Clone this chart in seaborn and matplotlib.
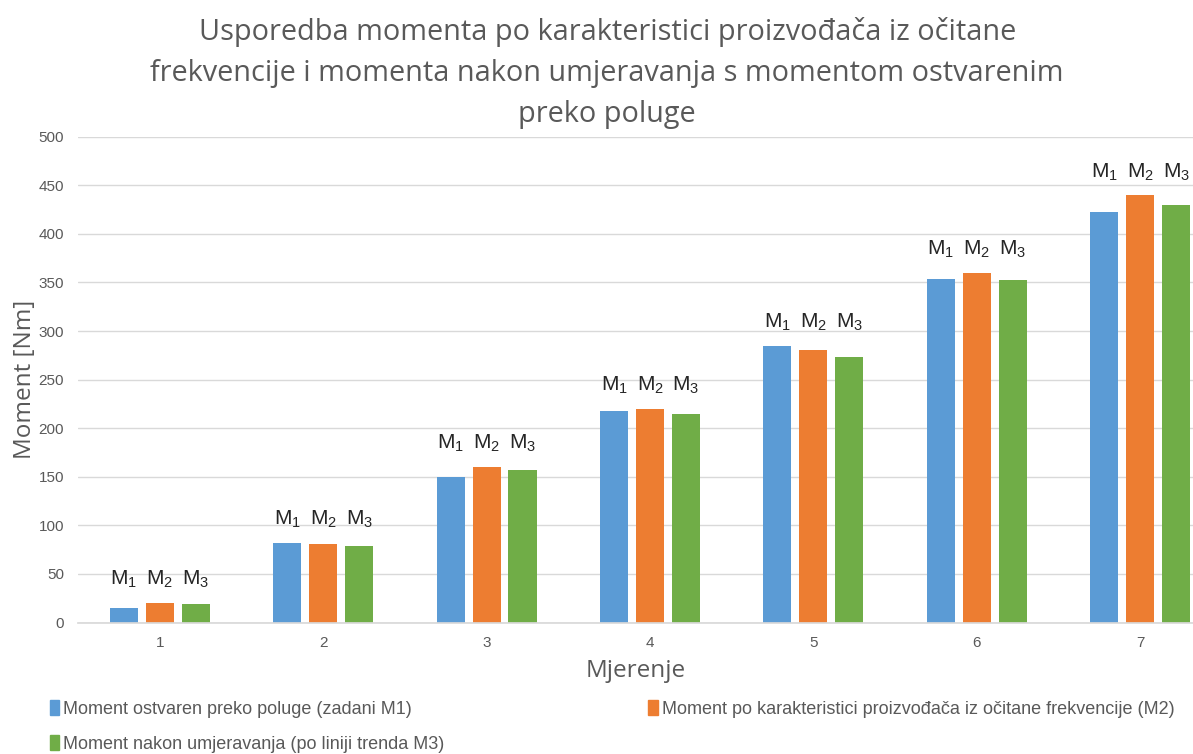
import matplotlib
matplotlib.use("Agg")
import matplotlib.pyplot as plt
import seaborn as sns
import pandas as pd

# Measured torques per measurement run
mjerenja = ["1", "2", "3", "4", "5", "6", "7"]
m1_poluga = [15.0, 82.2, 150.0, 217.2, 284.3, 353.5, 422.0]
m2_karakteristika = [20.5, 80.8, 159.6, 219.9, 280.2, 359.3, 439.5]
m3_umjeravanje = [19.1, 78.4, 156.8, 214.4, 273.4, 352.1, 429.9]

serije = [
    "Moment ostvaren preko poluge (zadani M1)",
    "Moment po karakteristici proizvođača iz očitane frekvencije (M2)",
    "Moment nakon umjeravanja (po liniji trenda M3)",
]
oznake = ["M$_1$", "M$_2$", "M$_3$"]
boje = ["#5B9BD5", "#ED7D31", "#70AD47"]

naslov = ("Usporedba momenta po karakteristici proizvođača iz očitane\n"
          "frekvencije i momenta nakon umjeravanja s momentom ostvarenim\n"
          "preko poluge")

df = pd.DataFrame({
    "Mjerenje": mjerenja * 3,
    "Moment": m1_poluga + m2_karakteristika + m3_umjeravanje,
    "Serija": [s for s in serije for _ in mjerenja],
})

sns.set_theme(style="white")
plt.rcParams["font.family"] = ["Open Sans", "DejaVu Sans"]
plt.rcParams["mathtext.fontset"] = "custom"
plt.rcParams["mathtext.rm"] = "Liberation Sans"
plt.rcParams["mathtext.it"] = "Liberation Sans"

siva = "#595959"
fig = plt.figure(figsize=(11.93, 7.54), dpi=100)
ax = fig.add_axes([78 / 1193, 1 - 622.5 / 754, 1 - 78 / 1193, (622.5 - 136.7) / 754])

sns.barplot(data=df, x="Mjerenje", y="Moment", hue="Serija", order=mjerenja,
            hue_order=serije, palette=boje, width=0.66, gap=0.22,
            saturation=1, edgecolor="none", legend=False, ax=ax)

ax.set_ylim(0, 500)
ax.set_xlim(-0.5, 6.5 - 29 / 163.5)
ax.set_yticks(range(0, 501, 50))
ax.grid(axis="y", color="#D9D9D9", linewidth=1.0)
ax.set_axisbelow(True)
for s in ["top", "right", "left"]:
    ax.spines[s].set_visible(False)
ax.spines["bottom"].set_color("#D9D9D9")
ax.tick_params(axis="both", length=0, colors=siva)
ax.tick_params(axis="y", pad=10)
ax.tick_params(axis="x", pad=10)
for t in ax.get_xticklabels() + ax.get_yticklabels():
    t.set_fontfamily("Liberation Sans")
    t.set_fontsize(11)

ax.set_xlabel("Mjerenje", fontsize=17.5, color=siva, labelpad=6)
ax.set_ylabel("Moment [Nm]", fontsize=17.5, color=siva, labelpad=1)

# Series markers above each group of bars
vrijednosti = [m1_poluga, m2_karakteristika, m3_umjeravanje]
for k, cont in enumerate(ax.containers):
    for i, bar in enumerate(cont.patches):
        vrh = max(v[i] for v in vrijednosti)
        ax.annotate(oznake[k], (bar.get_x() + bar.get_width() / 2, vrh),
                    xytext=(0, 17), textcoords="offset points",
                    ha="center", va="center", fontsize=15,
                    fontfamily="Liberation Sans", color="#262626")

fig.suptitle(naslov, x=0.509, y=0.978, fontsize=20.8, color=siva, linespacing=1.55)

handles = [plt.Rectangle((0, 0), 1, 1, color=c) for c in boje]
order = [0, 2, 1]
leg = fig.legend([handles[i] for i in order], [serije[i] for i in order],
                 ncol=2, loc="upper left", bbox_to_anchor=(0.028, 0.093),
                 frameon=False, handlelength=0.5, handleheight=0.9,
                 handletextpad=0.25, columnspacing=11.3, labelspacing=0.95,
                 prop={"family": "Liberation Sans", "size": 13})
for t in leg.get_texts():
    t.set_color(siva)

fig.savefig("out.png", dpi=100)
